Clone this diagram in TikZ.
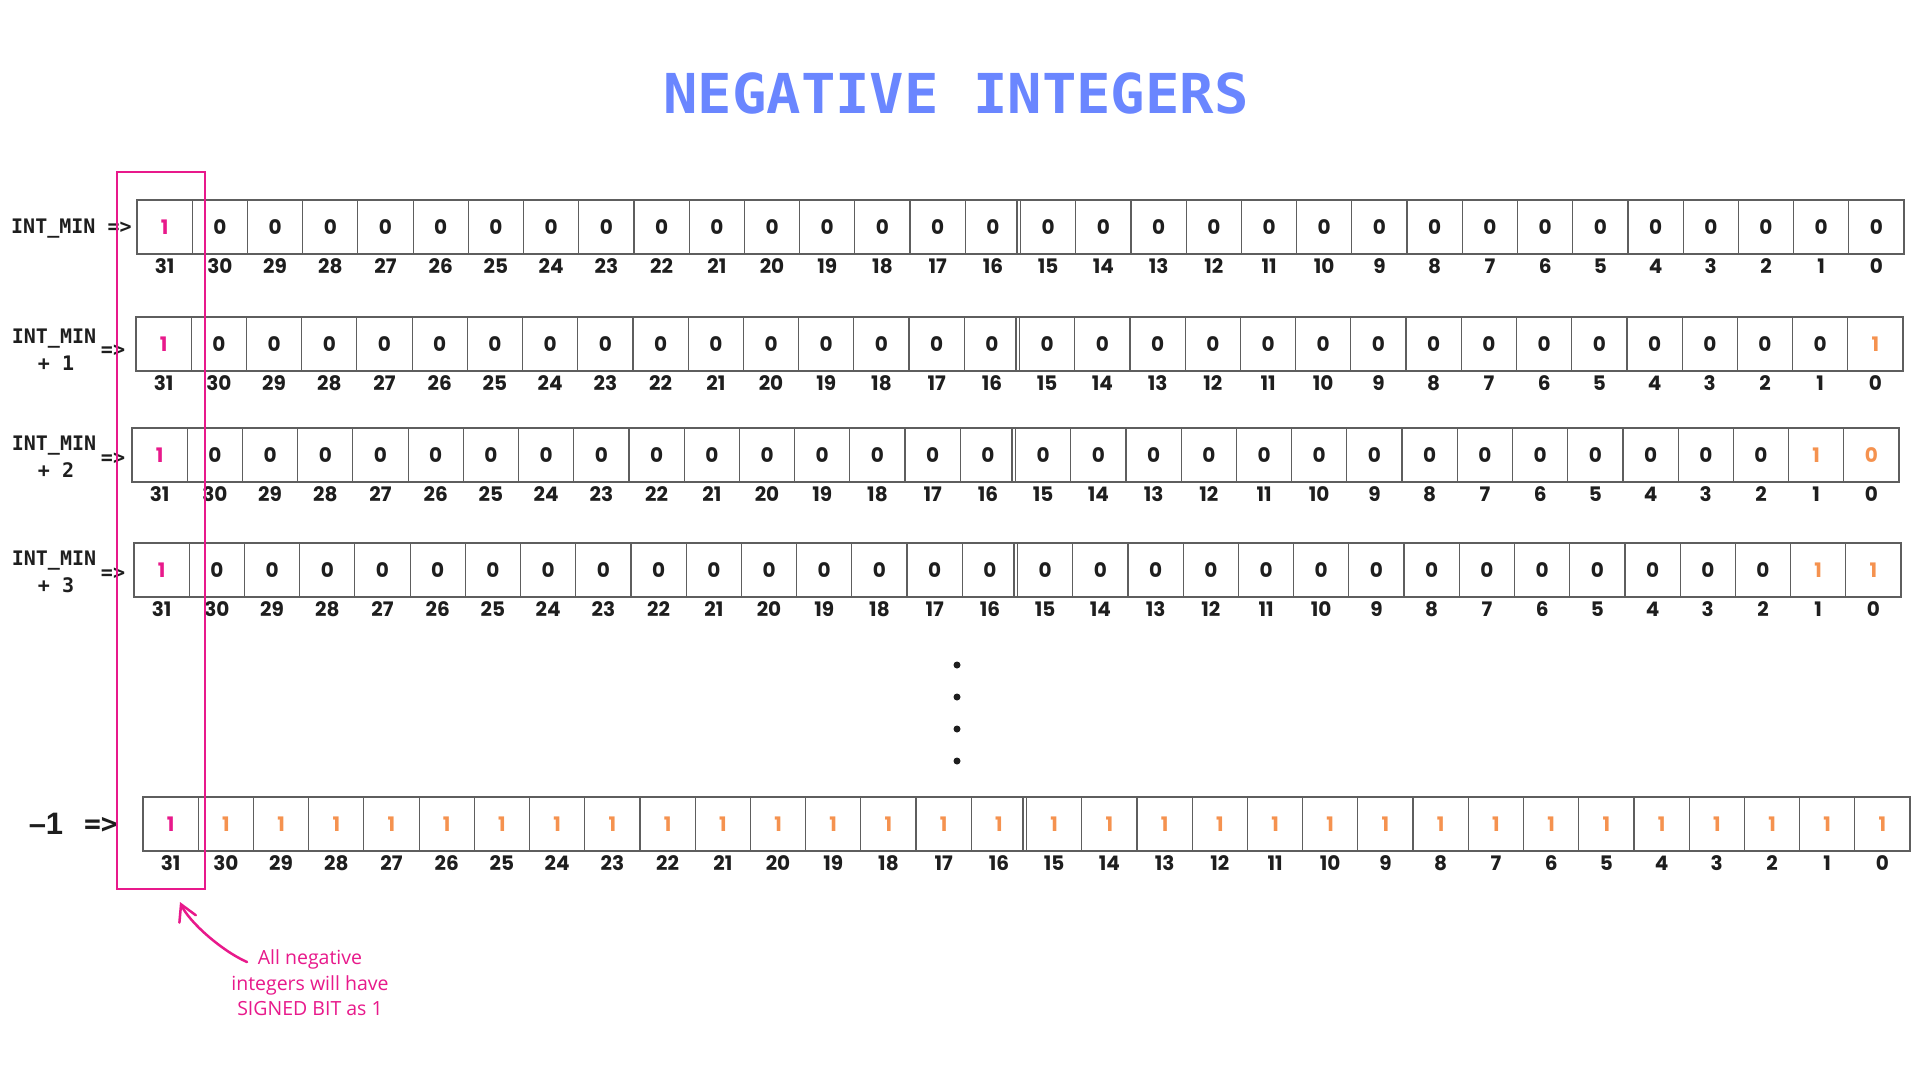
\documentclass[tikz,border=0pt]{standalone}
\usepackage{fontspec}
\setmainfont{Open Sans}
\newfontfamily\monof{DejaVu Sans Mono}
\newfontfamily\digf{Poppins}
\newfontfamily\bigf{Liberation Sans}
\usetikzlibrary{arrows.meta}
\definecolor{pinkc}{HTML}{E8198B}
\definecolor{orangec}{HTML}{F5924F}
\definecolor{titlec}{HTML}{6A86FF}
\definecolor{cellline}{HTML}{5E5E5E}
\definecolor{inkc}{HTML}{1E1E1E}
\newcommand\cw{55.22}
\newcommand\bitrow[5]{%
 \foreach \b in {0,...,31}{%
  \pgfmathsetmacro\cx{#2+(31-\b+0.5)*\cw}%
  \ifnum\b=31 \def\v{1}\def\col{pinkc}%
  \else
   \ifnum\b<#4 \def\col{orangec}%
     \ifnum#5<0 \def\v{1}\else\pgfmathtruncatemacro\v{mod(floor(#5/(2^\b)),2)}\fi
   \else \def\v{0}\def\col{inkc}\fi
  \fi
  \node[cellbox,text=\col] (#1c\b) at (\cx,#3+27) {\v};
  \node[idx] (#1i\b) at (\cx,#3+66) {\b};
 }%
 \draw[cellline,line width=1.2pt] ([xshift=-3pt]#1c15.north west) -- ([xshift=-3pt]#1c15.south west);
}
\begin{document}
\begin{tikzpicture}[x=1pt,y=-1pt,
  cellbox/.style={draw=cellline,line width=1.2pt,minimum width=55.22pt,minimum height=54pt,inner sep=0pt,
     font=\digf\fontsize{20}{20}\selectfont\bfseries,text height=14pt,text depth=0pt},
  idx/.style={inner sep=0pt,text=inkc,font=\digf\fontsize{20}{20}\selectfont\bfseries,text height=14pt,text depth=0pt},
  lbl/.style={inner sep=0pt,text=inkc,font=\monof\bfseries\fontsize{20}{20}\selectfont,text height=14.6pt,text depth=0pt},
  dotn/.style={circle,fill=inkc,minimum size=7pt,inner sep=0pt},
  titlen/.style={inner sep=0pt,text=titlec,font=\monof\bfseries\fontsize{55}{55}\selectfont,text height=40pt,text depth=0pt},
  noten/.style={inner sep=0pt,text=pinkc,align=center,font=\fontsize{19.5}{25.5}\selectfont}
]
\useasboundingbox (0,0) rectangle (1920,1080);
\fill[white] (0,0) rectangle (1920,1080);

\node[titlen] (title) at (956,93) {\scalebox{1.04}[1]{NEGATIVE INTEGERS}};

% rows
\bitrow{ra}{137}{200}{0}{0}
\bitrow{rb}{136}{317}{1}{1}
\bitrow{rc}{132}{428}{2}{2}
\bitrow{rd}{134}{543}{2}{3}
\bitrow{re}{143}{797}{31}{-1}

% left labels
\node[lbl,anchor=west] (la) at (11,226) {INT\_MIN =>};
\node[lbl] (lb1) at (54,336) {INT\_MIN};
\node[lbl] (lb2) at (56,363) {+ 1};
\node[lbl] (lb3) at (113,349) {=>};
\node[lbl] (lc1) at (54,443) {INT\_MIN};
\node[lbl] (lc2) at (56,470) {+ 2};
\node[lbl] (lc3) at (113,457) {=>};
\node[lbl] (ld1) at (54,558) {INT\_MIN};
\node[lbl] (ld2) at (56,585) {+ 3};
\node[lbl] (ld3) at (113,572) {=>};
\node[inner sep=0pt,text=inkc,font=\bigf\bfseries\fontsize{31}{31}\selectfont,text height=22pt,text depth=0pt] (le1) at (46,823) {–1};
\node[inner sep=0pt,text=inkc,font=\monof\bfseries\fontsize{28}{28}\selectfont,text height=20pt,text depth=0pt] (le2) at (101,823) {=>};

% dots
\node[dotn] (d1) at (957,665) {};
\node[dotn] (d2) at (957,697) {};
\node[dotn] (d3) at (957,729) {};
\node[dotn] (d4) at (957,761) {};

% signed bit highlight
\node[draw=pinkc,line width=2.5pt,inner sep=0pt,minimum width=88pt,minimum height=717pt] (sel) at (161,530.5) {};

% annotation
\node[noten] (note) at (310,983) {All negative\\integers will have\\SIGNED BIT as 1};
\coordinate (tail) at (247,962);
\coordinate (tip) at (180,902);
\draw[pinkc,line width=2.5pt,line cap=round,-{Straight Barb[length=16pt,width=18pt,line cap=round]}]
  (tail) .. controls (222,951) and (189,922) .. (tip);
\end{tikzpicture}
\end{document}
